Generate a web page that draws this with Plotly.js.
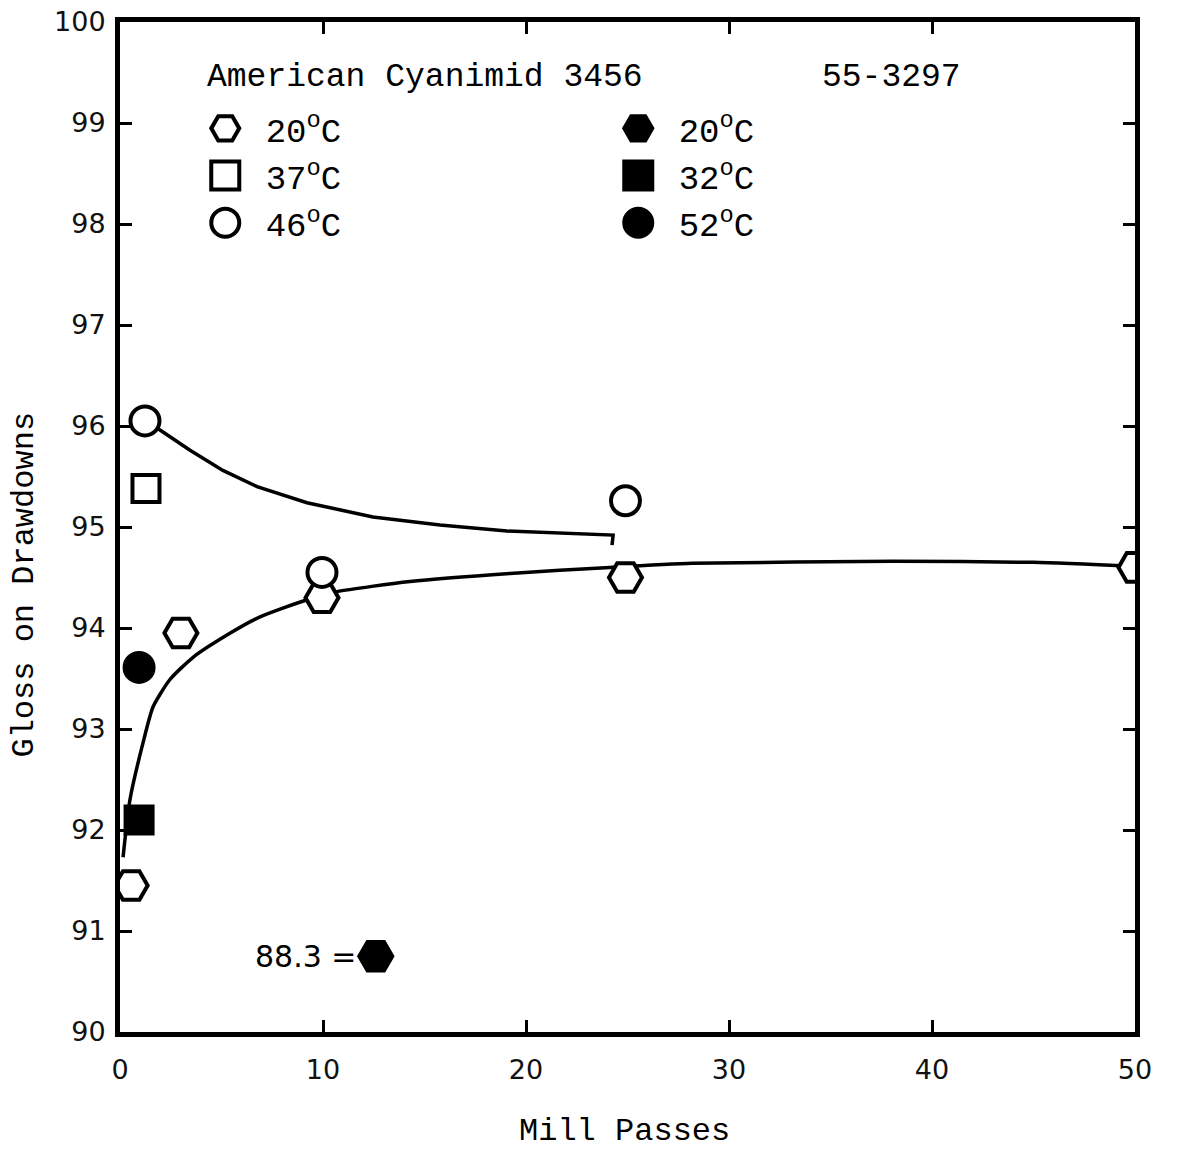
<!DOCTYPE html>
<html>
<head>
<meta charset="utf-8">
<script src="https://cdn.plot.ly/plotly-3.0.1.min.js"></script>
<style>body{margin:0;background:#fff;}#chart{width:1177px;height:1149px;}</style>
</head>
<body>
<div id="chart"></div>
<script>
// ---- data ----
// open symbols
const open20_x = [0.55, 3.0, 9.95, 24.9, 50.0];
const open20_y = [91.45, 93.95, 94.3, 94.5, 94.6];
const open37_x = [1.28];
const open37_y = [95.38];
const open46_x = [1.23, 9.95, 24.9];
const open46_y = [96.05, 94.55, 95.26];
// filled symbols
const fill20_x = [12.6];
const fill20_y = [90.75];   // plotted off-scale, labelled 88.3
const fill32_x = [0.94];
const fill32_y = [92.1];
const fill52_x = [0.94];
const fill52_y = [93.61];
// hand-drawn curves
const upperCurve_x = [1.6, 1.97, 3.45, 5.07, 6.75, 9.21, 12.46, 15.76, 19.06, 22.32, 24.29, 24.24];
const upperCurve_y = [96.02, 95.96, 95.76, 95.56, 95.40, 95.24, 95.10, 95.02, 94.96, 94.93, 94.92, 94.82];
const lowerCurve_x = [0.15, 0.49, 1.13, 1.63, 2.46, 3.60, 5.27, 6.90, 9.21, 10.69, 14.29, 19.21, 24.14, 28.2, 38.1, 45.0, 50.0];
const lowerCurve_y = [91.73, 92.30, 92.86, 93.22, 93.49, 93.71, 93.93, 94.11, 94.28, 94.36, 94.46, 94.54, 94.60, 94.64, 94.66, 94.65, 94.61];
const xTicks = [0, 10, 20, 30, 40, 50];
const yTicks = [90, 91, 92, 93, 94, 95, 96, 97, 98, 99, 100];
const offScaleLabel = "88.3 =";
const headerLeft = "American Cyanimid 3456";
const headerRight = "55-3297";
const xTitle = "Mill Passes";
const yTitle = "Gloss on Drawdowns";

const mono = "Liberation Mono, Courier New, monospace";
const mk = (sym, fill, size) => ({symbol: sym, size: size, color: fill, line: {color: '#000', width: 4}});
const lbl = t => " " + t + "<sup>o</sup>C";

const traces = [
  {x: upperCurve_x, y: upperCurve_y, mode: 'lines', line: {color: '#000', width: 3.5, shape: 'linear'}, showlegend: false, hoverinfo: 'skip'},
  {x: lowerCurve_x, y: lowerCurve_y, mode: 'lines', line: {color: '#000', width: 3.5, shape: 'spline', smoothing: 0.6}, showlegend: false, hoverinfo: 'skip'},
  {x: open20_x, y: open20_y, mode: 'markers', name: lbl('20'), marker: mk('hexagon2', '#fff', 33)},
  {x: fill20_x, y: fill20_y, mode: 'markers', name: lbl('20'), marker: mk('hexagon2', '#000', 33)},
  {x: open37_x, y: open37_y, mode: 'markers', name: lbl('37'), marker: mk('square', '#fff', 27)},
  {x: fill32_x, y: fill32_y, mode: 'markers', name: lbl('32'), marker: mk('square', '#000', 27)},
  {x: open46_x, y: open46_y, mode: 'markers', name: lbl('46'), marker: mk('circle', '#fff', 29)},
  {x: fill52_x, y: fill52_y, mode: 'markers', name: lbl('52'), marker: mk('circle', '#000', 29)}
];

const layout = {
  width: 1177, height: 1149,
  margin: {l: 120, r: 42, t: 22, b: 117},
  paper_bgcolor: '#fff', plot_bgcolor: '#fff',
  showlegend: true,
  legend: {
    orientation: 'h', x: 0.084, xanchor: 'left', y: 0.923, yanchor: 'top',
    entrywidth: 368, entrywidthmode: 'pixels',
    font: {family: mono, size: 34, color: '#000'},
    bgcolor: 'rgba(0,0,0,0)', borderwidth: 0, itemsizing: 'trace'
  },
  xaxis: {
    range: [0, 50], tickvals: xTicks, ticktext: xTicks.map(String),
    showgrid: false, zeroline: false,
    showline: true, linewidth: 5, linecolor: '#000', mirror: 'ticks',
    ticks: 'inside', ticklen: 12, tickwidth: 3, tickcolor: '#000',
    ticklabelstandoff: 10,
    tickfont: {family: 'DejaVu Sans', size: 27, color: '#111'}
  },
  yaxis: {
    range: [90, 100], tickvals: yTicks, ticktext: yTicks.map(String),
    showgrid: false, zeroline: false,
    showline: true, linewidth: 5, linecolor: '#000', mirror: 'ticks',
    ticks: 'inside', ticklen: 12, tickwidth: 3, tickcolor: '#000',
    ticklabelstandoff: 4,
    tickfont: {family: 'DejaVu Sans', size: 27, color: '#111'}
  },
  annotations: [
    {xref: 'paper', yref: 'paper', x: 0.084, y: 0.9446, xanchor: 'left', yanchor: 'middle', showarrow: false,
     text: headerLeft, font: {family: mono, size: 33, color: '#000'}},
    {xref: 'paper', yref: 'paper', x: 0.69, y: 0.9446, xanchor: 'left', yanchor: 'middle', showarrow: false,
     text: headerRight, font: {family: mono, size: 33, color: '#000'}},
    {xref: 'x', yref: 'y', x: fill20_x[0], y: fill20_y[0], xanchor: 'right', yanchor: 'middle', xshift: -18, showarrow: false,
     text: offScaleLabel, font: {family: 'DejaVu Sans', size: 30, color: '#000'}},
    {xref: 'paper', yref: 'paper', x: 0.4968, y: -0.0985, xanchor: 'center', yanchor: 'middle', showarrow: false,
     text: xTitle, font: {family: mono, size: 32, color: '#000'}},
    {xref: 'paper', yref: 'paper', x: -0.0936, y: 0.443, xanchor: 'center', yanchor: 'middle', showarrow: false, textangle: -90,
     text: yTitle, font: {family: mono, size: 32, color: '#000'}}
  ]
};

Plotly.newPlot('chart', traces, layout, {staticPlot: true}).then(gd => {
  // enlarge legend keys to match the hand-drawn legend symbols
  gd.querySelectorAll('.legend .legendpoints path.scatterpts').forEach(p => {
    const t = p.getAttribute('transform') || '';
    p.setAttribute('transform', t + ' scale(1.75)');
    p.style.strokeWidth = '2.3px';
  });
});
</script>
</body>
</html>
